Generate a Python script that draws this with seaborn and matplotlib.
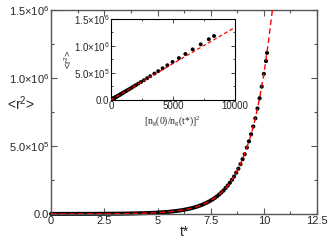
import matplotlib
matplotlib.use("Agg")
import matplotlib.pyplot as plt
import seaborn as sns
import numpy as np
import pandas as pd
from matplotlib.ticker import MultipleLocator

# ---------------- data ----------------
t_dots = [0.0, 0.1, 0.2, 0.3, 0.4, 0.5, 0.6, 0.7, 0.8, 0.9,
          1.0, 1.1, 1.2, 1.3, 1.4, 1.5, 1.6, 1.7, 1.8, 1.9,
          2.0, 2.1, 2.2, 2.3, 2.4, 2.5, 2.6, 2.7, 2.8, 2.9,
          3.0, 3.1, 3.2, 3.3, 3.4, 3.5, 3.6, 3.7, 3.8, 3.9,
          4.0, 4.1, 4.2, 4.3, 4.4, 4.5, 4.6, 4.7, 4.8, 4.9,
          5.0, 5.1, 5.2, 5.3, 5.4, 5.5, 5.6, 5.7, 5.8, 5.9,
          6.0, 6.1, 6.2, 6.3, 6.4, 6.5, 6.6, 6.7, 6.8, 6.9,
          7.0, 7.1, 7.2, 7.3, 7.4, 7.5, 7.6, 7.7, 7.8, 7.9,
          8.0, 8.1, 8.2, 8.3, 8.4, 8.5, 8.6, 8.7, 8.8, 8.9,
          9.0, 9.1, 9.2, 9.3, 9.4, 9.5, 9.6, 9.7, 9.8, 9.9,
          10.0, 10.1, 10.15]
r2_dots = [85, 93, 103, 113, 124, 136, 149, 164, 180, 198,
           218, 238, 264, 289, 317, 348, 381, 420, 461, 507,
           558, 609, 676, 740, 812, 891, 975, 1075, 1180, 1298,
           1428, 1559, 1731, 1894, 2079, 2281, 2496, 2752, 3021, 3323,
           3656, 3991, 4431, 4849, 5322, 5839, 6390, 7045, 7734, 8507,
           9359, 10217, 11343, 12413, 13624, 14948, 16358, 18035, 19799, 21778,
           23959, 26156, 29038, 31777, 34877, 38267, 41876, 46170, 50685, 55752,
           61335, 66959, 74337, 81349, 89285, 97964, 107203, 118195, 129754, 142725,
           157018, 171415, 190303, 208253, 228570, 250788, 274440, 302579, 332170, 365376,
           401966, 438822, 487176, 533128, 585139, 642017, 702566, 774602, 850355, 935363,
           1029033, 1123384, 1183600]

t_fit = [0.0, 0.5, 1.0, 1.5, 2.0, 2.5, 3.0, 3.5, 4.0, 4.5, 5.0, 5.5, 6.0,
         6.25, 6.5, 6.75, 7.0, 7.25, 7.5, 7.75, 8.0, 8.25, 8.5, 8.75,
         9.0, 9.2, 9.4, 9.6, 9.8, 10.0, 10.2, 10.4, 10.6]
r2_fit = [85, 136, 218, 348, 558, 891, 1428, 2281, 3656, 5839, 9359, 14948, 23959,
          30320, 38267, 48300, 61335, 77500, 97964, 123800, 157018, 198600, 250788, 317100,
          401966, 487176, 585139, 702566, 850355, 1029033, 1247171, 1497956, 1810000]

# inset: r^2 versus [n_g(0)/n_g(t*)]^2
inset_x = [1, 70, 76, 85, 93, 102, 112, 122, 135, 148, 162,
           179, 195, 217, 237, 260, 286, 312, 345, 378, 416,
           458, 500, 555, 607, 666, 731, 799, 880, 965, 1061,
           1166, 1270, 1407, 1539, 1685, 1845, 2015, 2217, 2429, 2667,
           2925, 3180, 3512, 3827, 4179, 4561, 4981, 5492, 6016, 6603,
           7249, 7906, 8329]
inset_y = [85] + r2_dots[50:]
inset_fit_x = [0, 10000]
inset_fit_y = [0, 1340000]

main_xticks = [0, 2.5, 5, 7.5, 10, 12.5]
main_xticklabels = ["0", "2.5", "5", "7.5", "10", "12.5"]
yticks = [0, 5e5, 1e6, 1.5e6]
yticklabels = ["0.0", r"5.0$\times$10$^{5}$", r"1.0$\times$10$^{6}$", r"1.5$\times$10$^{6}$"]
inset_xticks = [0, 5000, 10000]
inset_xticklabels = ["0", "5000", "10000"]

# ---------------- style ----------------
sns.set_style("ticks")
plt.rcParams["font.family"] = ["Liberation Sans", "DejaVu Sans"]
plt.rcParams["mathtext.fontset"] = "custom"
plt.rcParams["mathtext.rm"] = "Liberation Sans"
plt.rcParams["mathtext.it"] = "Liberation Sans:italic"
plt.rcParams["mathtext.default"] = "regular"

fig = plt.figure(figsize=(3.32, 2.45), dpi=100)
ax = fig.add_axes([0.154, 0.127, 0.801, 0.833])

df_dots = pd.DataFrame({"t": t_dots, "r2": r2_dots})
df_fit = pd.DataFrame({"t": t_fit, "r2": r2_fit})

sns.scatterplot(data=df_dots, x="t", y="r2", ax=ax, color="black", s=9,
                edgecolor="none", zorder=2, clip_on=False)
sns.lineplot(data=df_fit, x="t", y="r2", ax=ax, color="#ff0000", lw=1.0,
             linestyle=(0, (4, 2.5)), zorder=3)

ax.set_xlim(0, 12.5)
ax.set_ylim(0, 1.5e6)
ax.set_xticks(main_xticks)
ax.set_xticklabels(main_xticklabels)
ax.set_yticks(yticks)
ax.set_yticklabels(yticklabels)
ax.xaxis.set_minor_locator(MultipleLocator(1.25))
ax.yaxis.set_minor_locator(MultipleLocator(2.5e5))
ax.tick_params(which="both", direction="in", top=True, right=True, color="#555555",
               labelsize=8, pad=1.5)
ax.tick_params(which="major", length=4, width=0.8)
ax.tick_params(which="minor", length=2, width=0.8)
for s in ax.spines.values():
    s.set_color("#555555")
    s.set_linewidth(1.0)
ax.set_xlabel("t*", fontsize=10, labelpad=-1)
ax.set_ylabel(r"<r$^{2}$>", fontsize=10, rotation=0, labelpad=2, va="center")
ax.yaxis.set_label_coords(-0.115, 0.54)

# ---------------- inset ----------------
ins = fig.add_axes([0.334, 0.592, 0.373, 0.331])
df_ins = pd.DataFrame({"x": inset_x, "y": inset_y})
df_ins_fit = pd.DataFrame({"x": inset_fit_x, "y": inset_fit_y})
sns.scatterplot(data=df_ins, x="x", y="y", ax=ins, color="black", s=8,
                edgecolor="none", zorder=2)
sns.lineplot(data=df_ins_fit, x="x", y="y", ax=ins, color="#ff0000", lw=0.9,
             linestyle=(0, (3, 2)), zorder=3)
ins.set_xlim(0, 10000)
ins.set_ylim(0, 1.5e6)
ins.set_xticks(inset_xticks)
ins.set_xticklabels(inset_xticklabels)
ins.set_yticks(yticks)
ins.set_yticklabels(yticklabels)
ins.xaxis.set_minor_locator(MultipleLocator(2500))
ins.yaxis.set_minor_locator(MultipleLocator(2.5e5))
ins.tick_params(which="both", direction="in", top=True, right=True, labelsize=7, pad=1)
ins.tick_params(which="major", length=3, width=0.6)
ins.tick_params(which="minor", length=1.5, width=0.6)
for s in ins.spines.values():
    s.set_color("black")
    s.set_linewidth(0.8)
ins.set_xlabel(r"[n$_{g}$(0)/n$_{g}$(t*)]$^{2}$", fontsize=7,
               family=["Liberation Serif", "DejaVu Serif"], labelpad=2)
ins.set_ylabel(r"<r$^{2}$>", fontsize=6.5, labelpad=0)

fig.savefig("out.png", dpi=100)
